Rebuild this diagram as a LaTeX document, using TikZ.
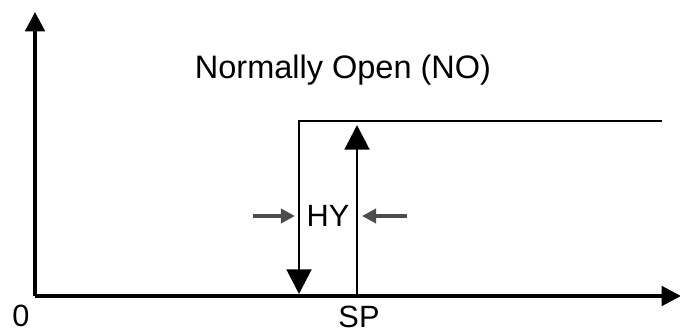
\documentclass[tikz,border=0pt]{standalone}
\usepackage{fontspec}
\setmainfont{Liberation Sans}
\usetikzlibrary{arrows.meta}
\tikzset{
  axis/.style={line width=2.2pt,-{Triangle[length=11pt,width=11pt]}},
  relay/.style={line width=1.7pt},
  bigarrow/.style={line width=1.7pt,-{Triangle[length=14pt,width=14pt]}},
  gaparrow/.style={line width=2pt,draw=black!70,-{Triangle[length=8pt,width=8pt]}},
  lbl/.style={font=\fontsize{17.5}{20}\selectfont,inner sep=0pt}
}
\begin{document}
\begin{tikzpicture}[x=0.02cm,y=0.02cm]
				\useasboundingbox (0,0) rectangle (680,332);
				% Axes
				\coordinate (origin) at (35,36);
				\coordinate (ytop) at (35,320);
				\coordinate (xend) at (681,36);
				\draw [axis] (origin) -- (ytop);
				\draw [axis] (origin) -- (xend);
				% Sortie du relais
				\coordinate (onright) at (662,211);
				\coordinate (ontop) at (299,211);
				\coordinate (offtip) at (299,38);
				\coordinate (spbot) at (357,36);
				\coordinate (sptip) at (357,207);
				\draw [bigarrow,line join=miter] (onright) -- (ontop) -- (offtip);
				\draw [bigarrow] (spbot) -- (sptip);
				% Hysteresis
				\node [lbl] (hy) at (328,116) {HY};
				\coordinate (hyleft) at (253,116);
				\coordinate (hyright) at (407,116);
				\draw [gaparrow] (hyleft) -- (295,116);
				\draw [gaparrow] (hyright) -- (362,116);
				% Textes
				\node [lbl,font=\fontsize{18.5}{22}\selectfont] (title) at (343,262) {Normally Open (NO)};
				\node [lbl] (zero) at (21,16) {0};
				\node [lbl] (sp) at (359,15) {SP};
\end{tikzpicture}
\end{document}
